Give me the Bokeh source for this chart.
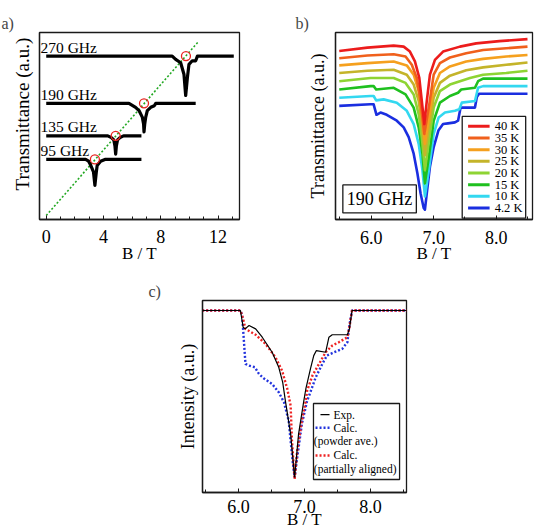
from bokeh.plotting import figure
from bokeh.layouts import column, row, Spacer
from bokeh.models import (SingleIntervalTicker, FixedTicker, PrintfTickFormatter,
                          Label, Range1d)
from bokeh.embed import file_html
from bokeh.resources import INLINE

SERIF = "Liberation Serif"
INK = "#1a1a1a"
NBSP = "\u00a0"

# ---------------- (a) frequency dependence ----------------
freqs = [270, 190, 135, 95]
freq_labels = ["270 GHz", "190 GHz", "135 GHz", "95 GHz"]

a270_B = [0.0, 8.8, 9.04, 9.39, 9.62, 9.74, 9.86, 9.97, 10.2, 10.44, 10.56, 13.1]
a270_y = [270, 270, 264.5, 258.8, 239.3, 203.3, 233.5, 256, 262.1, 262.1, 270, 270]

a190_B = [0.0, 5.78, 6.24, 6.48, 6.71, 6.80, 6.83, 6.88, 6.95, 7.06, 7.30, 7.55, 7.65, 10.44]
a190_y = [190, 190, 183.3, 177.8, 166.7, 155, 141.7, 155, 166.7, 177.8, 183.3, 186, 190, 190]

a135_B = [0.0, 4.3, 4.55, 4.72, 4.80, 4.85, 4.90, 4.98, 5.15, 5.4, 6.65]
a135_y = [135, 135, 132, 128, 118, 104, 118, 128, 132, 135, 135]

a95_B = [0.0, 2.75, 2.96, 3.11, 3.30, 3.40, 3.50, 3.56, 3.80, 4.10, 6.65]
a95_y = [95, 95, 92, 85, 74, 51, 74, 85, 92, 95, 95]

# resonance fields marked on each spectrum
res_B = [9.76, 6.83, 4.85, 3.40]
# g ~ 2 resonance line
gline_B = [0.0, 10.66]
gline_f = [0.0, 295.5]

# ---------------- (b) temperature dependence at 190 GHz ----------------
temps = ["40 K", "35 K", "30 K", "25 K", "20 K", "15 K", "10 K", "4.2 K"]
temp_colors = ["#ec1c1c", "#f0601c", "#f5a01e", "#c4b42a", "#8ed433", "#1fc01f", "#33d8f0", "#1a2ee0"]

b40_B = [5.49, 5.94, 6.36, 6.52, 6.62, 6.70, 6.77, 6.81, 6.85, 6.89, 6.94, 7.02, 7.15, 7.42, 7.68, 8.05, 8.50]
b40_y = [17.06, 17.40, 17.60, 17.50, 17.0, 16.0, 14.33, 12.0, 9.66, 12.0, 14.66, 16.16, 17.0, 17.5, 17.83, 18.06, 18.26]

b35_B = [5.49, 5.94, 6.36, 6.55, 6.65, 6.73, 6.79, 6.85, 6.93, 7.00, 7.10, 7.26, 7.52, 7.79, 8.16, 8.50]
b35_y = [16.33, 16.6, 16.73, 16.5, 15.66, 14.33, 12.0, 8.66, 11.66, 14.66, 15.83, 16.4, 16.83, 17.16, 17.33, 17.5]

b30_B = [5.49, 5.94, 6.36, 6.57, 6.68, 6.76, 6.81, 6.86, 6.93, 7.00, 7.10, 7.26, 7.52, 7.79, 8.16, 8.50]
b30_y = [15.6, 15.83, 16.0, 15.6, 14.66, 13.0, 10.66, 7.66, 10.66, 13.33, 14.83, 15.5, 16.0, 16.26, 16.5, 16.66]

b25_B = [5.49, 5.94, 6.36, 6.57, 6.68, 6.76, 6.81, 6.86, 6.93, 7.00, 7.10, 7.26, 7.52, 7.79, 8.16, 8.50]
b25_y = [14.83, 15.06, 15.16, 14.66, 13.66, 12.0, 9.66, 6.5, 9.66, 12.33, 13.83, 14.56, 15.1, 15.4, 15.66, 15.9]

b20_B = [5.49, 5.99, 6.36, 6.55, 6.68, 6.76, 6.81, 6.86, 6.93, 7.00, 7.10, 7.26, 7.42, 7.58, 7.79, 8.16, 8.50]
b20_y = [14.0, 14.33, 14.33, 13.83, 12.66, 10.66, 8.33, 5.0, 8.33, 11.33, 13.0, 13.66, 14.0, 14.33, 14.66, 14.83, 15.06]

b15_B = [5.49, 5.99, 6.04, 6.08, 6.36, 6.55, 6.68, 6.76, 6.82, 6.86, 6.93, 7.00, 7.10, 7.26, 7.39, 7.44, 7.66, 7.71, 7.79, 8.50]
b15_y = [13.16, 13.5, 13.5, 13.16, 13.33, 12.66, 11.33, 9.33, 6.66, 3.66, 6.66, 10.0, 11.83, 12.5, 12.83, 13.16, 13.33, 14.0, 14.26, 14.26]

b10_B = [5.49, 5.99, 6.04, 6.08, 6.20, 6.41, 6.57, 6.68, 6.76, 6.82, 6.86, 6.93, 7.00, 7.08, 7.18, 7.34, 7.41, 7.45, 7.66, 7.71, 7.79, 8.50]
b10_y = [12.33, 12.5, 12.5, 12.06, 12.16, 11.83, 11.0, 9.66, 7.66, 5.0, 2.33, 5.33, 8.66, 10.33, 10.83, 11.0, 11.16, 11.83, 12.0, 13.33, 13.5, 13.5]

b4_B = [5.49, 5.99, 6.04, 6.085, 6.15, 6.25, 6.41, 6.52, 6.60, 6.68, 6.74, 6.79, 6.84, 6.86, 6.89, 6.94, 7.00, 7.075, 7.15, 7.23, 7.34, 7.39, 7.43, 7.66, 7.69, 7.725, 8.50]
b4_y = [11.5, 11.66, 11.66, 10.6, 10.83, 10.6, 10.0, 9.33, 8.33, 6.66, 4.66, 2.66, 1.16, 1.0, 2.66, 5.33, 7.33, 9.0, 9.66, 9.73, 9.83, 10.0, 11.33, 11.33, 12.4, 12.73, 12.73]

b_B = [b40_B, b35_B, b30_B, b25_B, b20_B, b15_B, b10_B, b4_B]
b_y = [b40_y, b35_y, b30_y, b25_y, b20_y, b15_y, b10_y, b4_y]

# ---------------- (c) experiment vs. calculation ----------------
exp_B = [5.45, 6.03, 6.07, 6.10, 6.16, 6.26, 6.36, 6.51, 6.61, 6.67, 6.71, 6.79, 6.85,
         6.91, 6.99, 7.02, 7.09, 7.14, 7.18, 7.32, 7.37, 7.42, 7.65, 7.68, 7.72, 8.55]
exp_I = [1.0, 1.0, 0.90, 0.89, 0.91, 0.89, 0.84, 0.75, 0.66, 0.57, 0.46, 0.26, 0.0,
         0.26, 0.46, 0.53, 0.65, 0.73, 0.76, 0.75, 0.84, 0.855, 0.855, 0.89, 1.0, 1.0]

powder_B = [5.45, 6.03, 6.056, 6.08, 6.106, 6.16, 6.25, 6.31, 6.38, 6.51, 6.61, 6.69, 6.76, 6.82, 6.85,
            6.89, 6.96, 7.04, 7.07, 7.17, 7.27, 7.34, 7.42, 7.57, 7.65, 7.68, 7.72, 8.55]
powder_I = [1.0, 1.0, 0.97, 0.83, 0.68, 0.67, 0.66, 0.62, 0.595, 0.56, 0.51, 0.45, 0.34, 0.10, 0.0,
            0.12, 0.32, 0.46, 0.49, 0.60, 0.68, 0.73, 0.745, 0.77, 0.81, 0.91, 1.0, 1.0]

aligned_B = [5.45, 6.03, 6.07, 6.106, 6.26, 6.41, 6.56, 6.66, 6.74, 6.79, 6.81, 6.85,
             6.89, 6.96, 7.02, 7.04, 7.12, 7.22, 7.32, 7.42, 7.52, 7.65, 7.68, 7.72, 8.55]
aligned_I = [1.0, 1.0, 0.95, 0.89, 0.855, 0.80, 0.72, 0.64, 0.53, 0.43, 0.22, -0.01,
             0.16, 0.34, 0.46, 0.52, 0.61, 0.68, 0.75, 0.79, 0.81, 0.84, 0.90, 1.0, 1.0]


def frame_style(p, ticker, fmt=None, ylabel="", ylabel_size="18px", ylabel_standoff=6,
                tick_standoff=8, label_standoff=-3):
    p.outline_line_color = INK
    p.outline_line_width = 1.3
    p.xgrid.visible = False
    p.ygrid.visible = False
    p.background_fill_color = "white"
    p.border_fill_color = "white"
    xa = p.xaxis[0]
    xa.ticker = ticker
    if fmt is not None:
        xa.formatter = fmt
    xa.axis_line_color = INK
    xa.axis_line_width = 1.3
    xa.major_tick_in = 4
    xa.major_tick_out = 0
    xa.minor_tick_in = 3
    xa.minor_tick_out = 0
    xa.major_tick_line_color = INK
    xa.minor_tick_line_color = INK
    xa.major_label_text_font = SERIF
    xa.major_label_text_font_size = "18px"
    xa.major_label_text_color = "black"
    xa.major_label_standoff = tick_standoff
    xa.axis_label = "B / T"
    xa.axis_label_text_font = SERIF
    xa.axis_label_text_font_size = "17px"
    xa.axis_label_text_font_style = "normal"
    xa.axis_label_text_color = "black"
    xa.axis_label_standoff = label_standoff
    ya = p.yaxis[0]
    ya.ticker = FixedTicker(ticks=[])
    ya.axis_line_color = INK
    ya.axis_line_width = 1.3
    ya.axis_label = ylabel
    ya.axis_label_text_font = SERIF
    ya.axis_label_text_font_size = ylabel_size
    ya.axis_label_text_font_style = "normal"
    ya.axis_label_text_color = "black"
    ya.axis_label_standoff = ylabel_standoff
    p.title.text_font = SERIF
    p.title.text_font_size = "16px"
    p.title.text_font_style = "normal"
    p.title.align = "left"
    p.title.standoff = 1


# ---------- panel (a) ----------
pa = figure(width=285, height=271, x_range=Range1d(-0.47, 13.5), y_range=Range1d(-6.7, 310),
            min_border_left=39, min_border_right=46, min_border_top=29, min_border_bottom=52,
            toolbar_location=None, output_backend="svg", title="a)")
# leading no-break spaces lift the rotated label a little above the frame centre
frame_style(pa, SingleIntervalTicker(interval=4, num_minor_ticks=4),
            ylabel=NBSP * 5 + "Transmittance (a.u.)",
            ylabel_size="19px", ylabel_standoff=7, tick_standoff=10, label_standoff=-2)
pa.title.offset = -38

pa.line(gline_B, gline_f, line_color="#22a822", line_width=1.6, line_dash="2 2")
for Bs, ys in [(a270_B, a270_y), (a190_B, a190_y), (a135_B, a135_y), (a95_B, a95_y)]:
    pa.line(Bs, ys, line_color="black", line_width=3.2, line_join="round")
pa.scatter(res_B, freqs, marker="circle", size=9, fill_color=None, line_color="#e8231f", line_width=1.3)
for f, lab in zip(freqs, freq_labels):
    pa.add_layout(Label(x=pa.x_range.start, y=f, x_offset=1, y_offset=9, text=lab,
                        text_baseline="middle", text_font=SERIF, text_font_size="15.5px",
                        text_color="black"))

# ---------- panel (b) ----------
pb = figure(width=254, height=271, x_range=Range1d(5.43, 8.58), y_range=Range1d(0, 18.93),
            min_border_left=50, min_border_right=7, min_border_top=32, min_border_bottom=50,
            toolbar_location=None, output_backend="svg", title="b)")
frame_style(pb, SingleIntervalTicker(interval=1, num_minor_ticks=2), PrintfTickFormatter(format="%.1f"),
            ylabel="Transmittance (a.u.)", ylabel_size="18px", ylabel_standoff=8,
            tick_standoff=11, label_standoff=-3)
pb.title.offset = -40

for Bs, ys, c in zip(b_B[::-1], b_y[::-1], temp_colors[::-1]):
    pb.line(Bs, ys, line_color=c, line_width=2.6, line_join="round")

# temperature key (boxed, lower right)
key_left, key_right, key_bottom, key_top = 7.456, 8.471, 0.13, 10.43
key_row0, key_step = 9.43, 1.18
pb.quad(left=key_left, right=key_right, bottom=key_bottom, top=key_top, fill_color="white",
        line_color=INK, line_width=1.3)
for i, (t, c) in enumerate(zip(temps, temp_colors)):
    yk = key_row0 - i * key_step
    pb.line([7.55, 7.894], [yk, yk], line_color=c, line_width=3)
    pb.add_layout(Label(x=7.975, y=yk, text=t, text_baseline="middle", text_font=SERIF,
                        text_font_size="12.5px", text_color="black"))

pb.add_layout(Label(x=6.135, y=2.08, text="190 GHz", text_align="center", text_baseline="middle",
                    text_font=SERIF, text_font_size="18px", text_color="black",
                    border_line_color=INK, border_line_width=1.3, background_fill_color="white",
                    padding=4))

# ---------- panel (c) ----------
pc = figure(width=284, height=260, x_range=Range1d(5.455, 8.545), y_range=Range1d(-0.09, 1.06),
            min_border_left=60, min_border_right=20, min_border_top=29, min_border_bottom=39,
            toolbar_location=None, output_backend="svg", title="c)")
frame_style(pc, SingleIntervalTicker(interval=1, num_minor_ticks=2), PrintfTickFormatter(format="%.1f"),
            ylabel="Intensity (a.u.)", ylabel_size="18px", ylabel_standoff=5,
            tick_standoff=7, label_standoff=-6)
pc.title.offset = -54

pc.line(powder_B, powder_I, line_color="#2233dd", line_width=2.4, line_dash="2 2")
pc.line(aligned_B, aligned_I, line_color="#ee2222", line_width=2.4, line_dash="2 2")
pc.line(exp_B, exp_I, line_color="black", line_width=1.2)

# legend box for (c)
pc.quad(left=7.136, right=8.44, bottom=-0.012, top=0.443, fill_color="white",
        line_color=INK, line_width=1.3)
pc.line([7.242, 7.379], [0.377, 0.377], line_color="black", line_width=1.2)
pc.line([7.167, 7.379], [0.298, 0.298], line_color="#2233dd", line_width=2.4, line_dash="2 2")
pc.line([7.167, 7.379], [0.132, 0.132], line_color="#ee2222", line_width=2.4, line_dash="2 2")
for x, y, t in [(7.44, 0.377, "Exp."), (7.44, 0.298, "Calc."), (7.141, 0.217, "(powder ave.)"),
                (7.44, 0.132, "Calc."), (7.141, 0.052, "(partially aligned)")]:
    pc.add_layout(Label(x=x, y=y, text=t, text_baseline="middle", text_font=SERIF,
                        text_font_size="11.5px", text_color="black"))

layout = column(row(pa, pb), row(Spacer(width=142, height=260), pc))
open("out.html", "w").write(file_html(layout, INLINE))
